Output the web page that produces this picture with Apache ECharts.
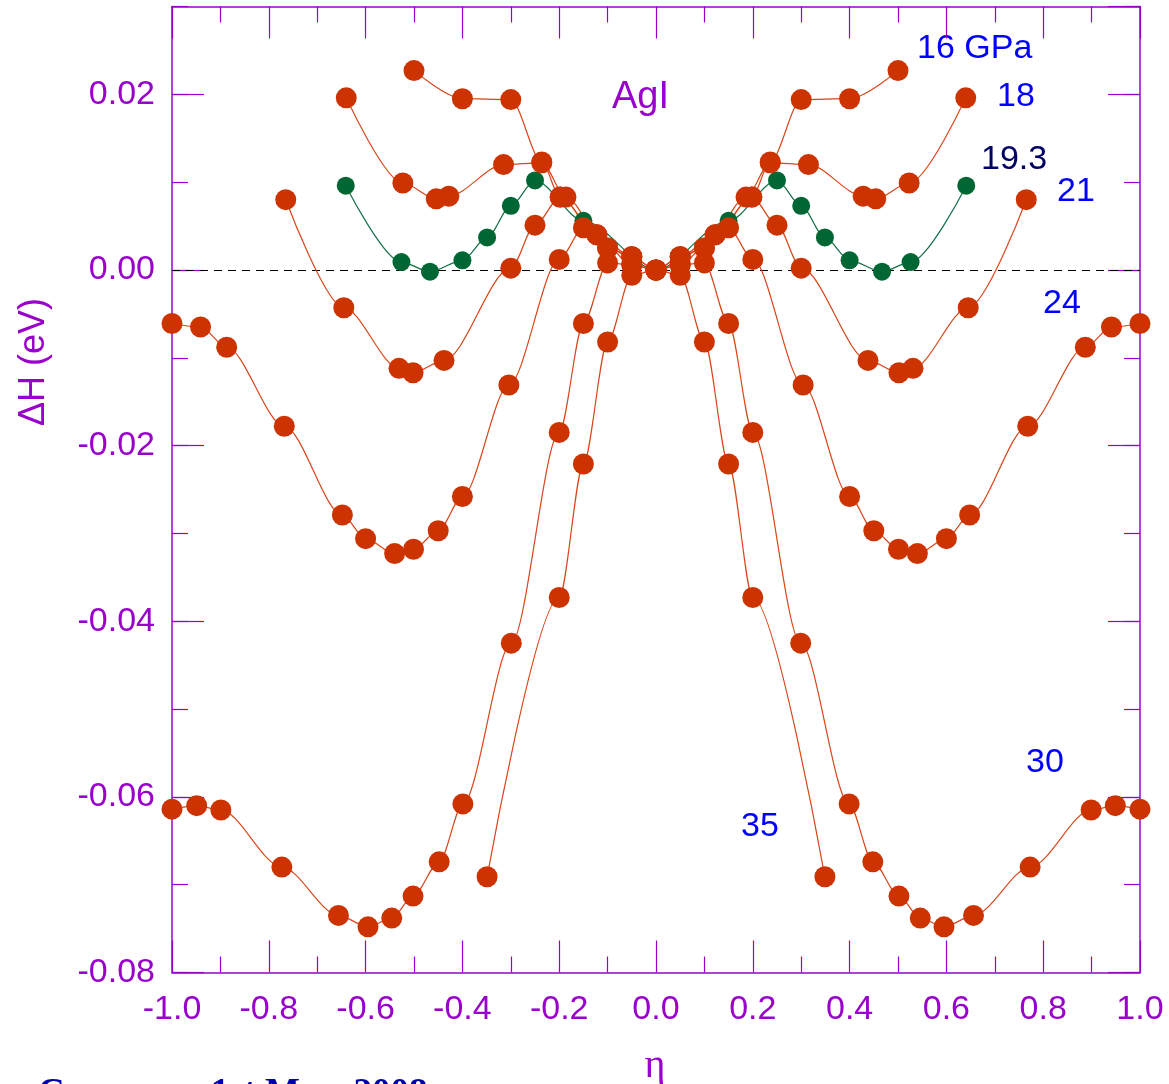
<!DOCTYPE html>
<html>
<head>
<meta charset="utf-8">
<title>AgI</title>
<script src="https://cdn.jsdelivr.net/npm/echarts@6/dist/echarts.min.js"></script>
<style>
    html, body { margin: 0; padding: 0; background: #ffffff; }
    #main { width: 1169px; height: 1084px; }
</style>
</head>
<body>
<div id="main"></div>
<script>
// 读图得到的数据：eta 为应变，dh 为焓差 (eV)
var eta16 = [-0.500, -0.400, -0.300, -0.236, -0.198, -0.122, -0.050, 0, 0.050, 0.122, 0.198, 0.236, 0.300, 0.400, 0.500];
var dh16 = [0.0227, 0.0195, 0.0194, 0.0123, 0.0083, 0.0040, 0.0015, 0, 0.0015, 0.0040, 0.0083, 0.0123, 0.0194, 0.0195, 0.0227];

var eta18 = [-0.640, -0.523, -0.454, -0.428, -0.315, -0.236, -0.186, -0.100, -0.050, 0, 0.050, 0.100, 0.186, 0.236, 0.315, 0.428, 0.454, 0.523, 0.640];
var dh18 = [0.0196, 0.0099, 0.0081, 0.0084, 0.0120, 0.0122, 0.0083, 0.0025, 0.0015, 0, 0.0015, 0.0025, 0.0083, 0.0122, 0.0120, 0.0084, 0.0081, 0.0099, 0.0196];

var eta193 = [-0.641, -0.526, -0.467, -0.400, -0.349, -0.300, -0.250, -0.150, 0, 0.150, 0.250, 0.300, 0.349, 0.400, 0.467, 0.526, 0.641];
var dh193 = [0.0096, 0.0009, -0.0002, 0.0011, 0.0037, 0.0073, 0.0102, 0.0056, 0, 0.0056, 0.0102, 0.0073, 0.0037, 0.0011, -0.0002, 0.0009, 0.0096];

var eta21 = [-0.765, -0.645, -0.531, -0.502, -0.438, -0.300, -0.250, -0.198, -0.122, -0.050, 0, 0.050, 0.122, 0.198, 0.250, 0.300, 0.438, 0.502, 0.531, 0.645, 0.765];
var dh21 = [0.0080, -0.0043, -0.0112, -0.0117, -0.0103, 0.0002, 0.0051, 0.0083, 0.0040, 0.0006, 0, 0.0006, 0.0040, 0.0083, 0.0051, 0.0002, -0.0103, -0.0117, -0.0112, -0.0043, 0.0080];

var eta24 = [-1.000, -0.941, -0.887, -0.768, -0.648, -0.600, -0.540, -0.501, -0.450, -0.400, -0.304, -0.200, -0.150, -0.100, -0.050, 0, 0.050, 0.100, 0.150, 0.200, 0.304, 0.400, 0.450, 0.501, 0.540, 0.600, 0.648, 0.768, 0.887, 0.941, 1.000];
var dh24 = [-0.0061, -0.0065, -0.0088, -0.0178, -0.0279, -0.0306, -0.0323, -0.0318, -0.0297, -0.0258, -0.0131, 0.0012, 0.0048, 0.0025, 0.0015, 0, 0.0015, 0.0025, 0.0048, 0.0012, -0.0131, -0.0258, -0.0297, -0.0318, -0.0323, -0.0306, -0.0279, -0.0178, -0.0088, -0.0065, -0.0061];

var eta30 = [-1.000, -0.949, -0.899, -0.773, -0.656, -0.595, -0.546, -0.502, -0.448, -0.399, -0.299, -0.200, -0.150, -0.100, -0.050, 0, 0.050, 0.100, 0.150, 0.200, 0.299, 0.399, 0.448, 0.502, 0.546, 0.595, 0.656, 0.773, 0.899, 0.949, 1.000];
var dh30 = [-0.0614, -0.0610, -0.0615, -0.0680, -0.0735, -0.0748, -0.0738, -0.0713, -0.0674, -0.0608, -0.0425, -0.0185, -0.0061, 0.0008, 0.0006, 0, 0.0006, 0.0008, -0.0061, -0.0185, -0.0425, -0.0608, -0.0674, -0.0713, -0.0738, -0.0748, -0.0735, -0.0680, -0.0615, -0.0610, -0.0614];

var eta35 = [-0.349, -0.200, -0.150, -0.100, -0.050, 0, 0.050, 0.100, 0.150, 0.200, 0.349];
var dh35 = [-0.0691, -0.0373, -0.0221, -0.0082, -0.0006, 0, -0.0006, -0.0082, -0.0221, -0.0373, -0.0691];

// 曲线旁的压力标注
var pressureLabels = ['16 GPa', '18', '19.3', '21', '24', '30', '35'];

var purple = '#9900CC';
var red = '#CC3300';
var green = '#006633';

function pairs(xs, ys) {
    return xs.map(function (x, i) { return [x, ys[i]]; });
}

function redSeries(name, xs, ys) {
    return {
        name: name,
        type: 'line',
        smooth: 0.3,
        smoothMonotone: 'x',
        symbol: 'circle',
        symbolSize: 21,
        itemStyle: { color: red },
        lineStyle: { color: '#D8461A', width: 1.2 },
        data: pairs(xs, ys)
    };
}

// 四条边都有向内的刻度
function xAxisBase(pos, showLabel) {
    return {
        type: 'value',
        position: pos,
        min: -1,
        max: 1,
        interval: 0.2,
        axisLine: { onZero: false, lineStyle: { color: purple, width: 1.5 } },
        axisTick: { inside: true, length: 32, lineStyle: { color: purple, width: 1.2 } },
        minorTick: { show: true, splitNumber: 2, length: 16, lineStyle: { color: purple, width: 1.2 } },
        splitLine: { show: false },
        axisLabel: {
            show: showLabel,
            color: purple,
            fontSize: 34,
            fontFamily: 'Liberation Sans, Arial, sans-serif',
            margin: 20,
            formatter: function (v) { return v.toFixed(1); }
        }
    };
}

function yAxisBase(pos, interval, tickLen, showLabel, showLine) {
    return {
        type: 'value',
        position: pos,
        min: -0.08,
        max: 0.03,
        interval: interval,
        axisLine: { show: showLine, onZero: false, lineStyle: { color: purple, width: 1.5 } },
        axisTick: { inside: true, length: tickLen, lineStyle: { color: purple, width: 1.2 } },
        splitLine: { show: false },
        axisLabel: {
            show: showLabel,
            showMaxLabel: false,
            color: purple,
            fontSize: 34,
            fontFamily: 'Liberation Sans, Arial, sans-serif',
            margin: 17,
            formatter: function (v) {
                if (Math.abs(v) < 1e-9) return '0.00';
                return v.toFixed(2);
            }
        }
    };
}

var myChart = echarts.init(document.getElementById('main'));

var labelFont = '34px "Liberation Sans", Arial, sans-serif';
var labelPos = [[917, 49], [997, 97], [981, 160], [1057, 192], [1043, 304], [1026, 763], [741, 827]];

var graphics = pressureLabels.map(function (t, i) {
    return {
        type: 'text',
        x: labelPos[i][0],
        y: labelPos[i][1],
        style: {
            text: t,
            font: labelFont,
            fill: t === '19.3' ? '#000066' : '#0000FF',
            textAlign: 'left',
            textVerticalAlign: 'middle'
        }
    };
});
graphics.push({
    type: 'text', x: 612, y: 98,
    style: { text: 'AgI', font: '38px "Liberation Sans", Arial, sans-serif', fill: purple, textAlign: 'left', textVerticalAlign: 'middle' }
});
graphics.push({
    type: 'text', x: 34, y: 362, rotation: Math.PI / 2,
    style: { text: 'ΔH (eV)', font: '36px "Liberation Sans", Arial, sans-serif', fill: purple, textAlign: 'center', textVerticalAlign: 'middle' }
});
graphics.push({
    type: 'text', x: 655, y: 1066,
    style: { text: 'η', font: '40px "Liberation Serif", "Times New Roman", serif', fill: purple, textAlign: 'center', textVerticalAlign: 'middle' }
});
graphics.push({
    type: 'text', x: 38, y: 1094,
    style: { text: 'Carazona, 1st May, 2008', font: 'bold 37px "Liberation Serif", "Times New Roman", serif', fill: '#0000AA', textAlign: 'left', textVerticalAlign: 'middle' }
});

var option = {
    animation: false,
    backgroundColor: '#ffffff',
    grid: { left: 172, right: 29, top: 6.5, bottom: 111.5, containLabel: false },
    xAxis: [xAxisBase('bottom', true), xAxisBase('top', false)],
    yAxis: [
        yAxisBase('left', 0.02, 32, true, true),
        yAxisBase('right', 0.02, 32, false, true),
        yAxisBase('left', 0.01, 16, false, false),
        yAxisBase('right', 0.01, 16, false, false)
    ],
    graphic: graphics,
    series: [
        {
            name: '19.3 GPa',
            type: 'line',
            smooth: 0.3,
            smoothMonotone: 'x',
            symbol: 'circle',
            symbolSize: 18,
            itemStyle: { color: green },
            lineStyle: { color: '#127046', width: 1.2 },
            data: pairs(eta193, dh193),
            // 零线（虚线）
            markLine: {
                z: 1,
                silent: true,
                symbol: ['none', 'none'],
                label: { show: false },
                lineStyle: { color: '#000000', type: [8, 6], width: 1 },
                data: [{ yAxis: 0 }]
            }
        },
        redSeries('16 GPa', eta16, dh16),
        redSeries('18 GPa', eta18, dh18),
        redSeries('21 GPa', eta21, dh21),
        redSeries('24 GPa', eta24, dh24),
        redSeries('30 GPa', eta30, dh30),
        redSeries('35 GPa', eta35, dh35)
    ]
};

myChart.setOption(option);
</script>
</body>
</html>
